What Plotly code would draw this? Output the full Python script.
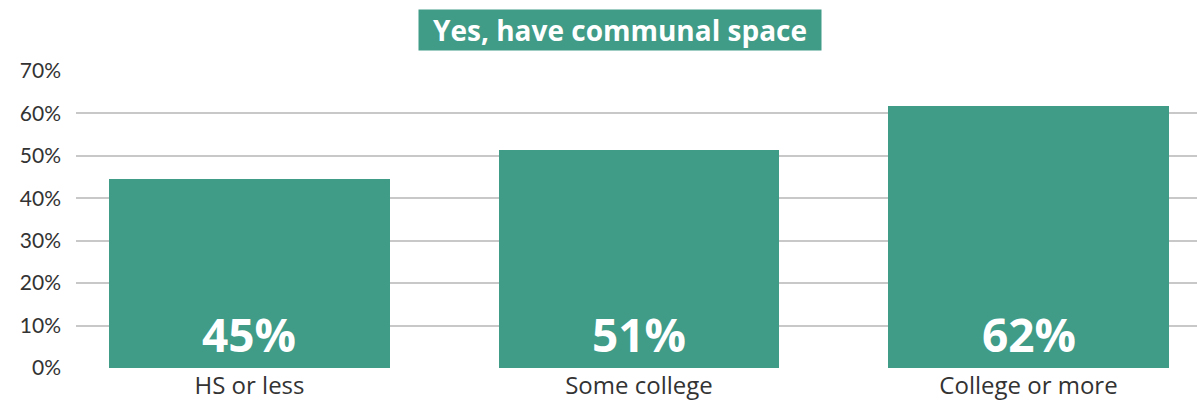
import plotly.graph_objects as go

categories = ["HS or less", "Some college", "College or more"]
values = [44.6, 51.4, 61.7]
value_labels = ["45%", "51%", "62%"]
tick_vals = [0, 10, 20, 30, 40, 50, 60, 70]
tick_text = ["0%", "10%", "20%", "30%", "40%", "50%", "60%", "70%"]
title_text = "Yes, have communal space"

GREEN = "#409B87"
FONT = "Lato"
FONT2 = "Open Sans"

x_pos = list(range(len(categories)))

fig = go.Figure()
fig.add_trace(go.Bar(
    x=x_pos, y=values, width=0.72, marker=dict(color=GREEN, line=dict(width=0)),
    hoverinfo="skip",
))

for xi, lab in zip(x_pos, value_labels):
    fig.add_annotation(x=xi, y=0, xref="x", yref="y", text="<b>%s</b>" % lab,
                       showarrow=False, yanchor="bottom", yshift=1,
                       font=dict(family=FONT2, size=46, color="white"))

fig.add_annotation(x=(620 - 76) / 1121, y=(368 - 30) / 297, xref="paper", yref="paper",
                   text="<b>%s</b>" % title_text, showarrow=False,
                   xanchor="center", yanchor="middle",
                   width=402, height=40, borderpad=0, bgcolor=GREEN,
                   font=dict(family=FONT2, size=28, color="white"))

fig.update_layout(
    width=1197, height=402,
    margin=dict(l=76, r=0, t=71, b=34),
    paper_bgcolor="white", plot_bgcolor="white",
    showlegend=False, bargap=0,
    xaxis=dict(range=[-0.4454, 2.4326], tickmode="array", tickvals=x_pos, ticktext=categories,
               showgrid=False, zeroline=False, showline=False, ticks="",
               ticklabelstandoff=1, automargin=False,
               tickfont=dict(family=FONT2, size=24, color="#333333")),
    yaxis=dict(range=[0, 70], tickmode="array", tickvals=tick_vals, ticktext=tick_text,
               showgrid=True, gridcolor="#C8C8C8", gridwidth=1.5, zeroline=False,
               showline=False, ticks="", ticklabelstandoff=14, automargin=False,
               tickfont=dict(family=FONT, size=21, color="#333333")),
)

fig.write_html("out.html")
